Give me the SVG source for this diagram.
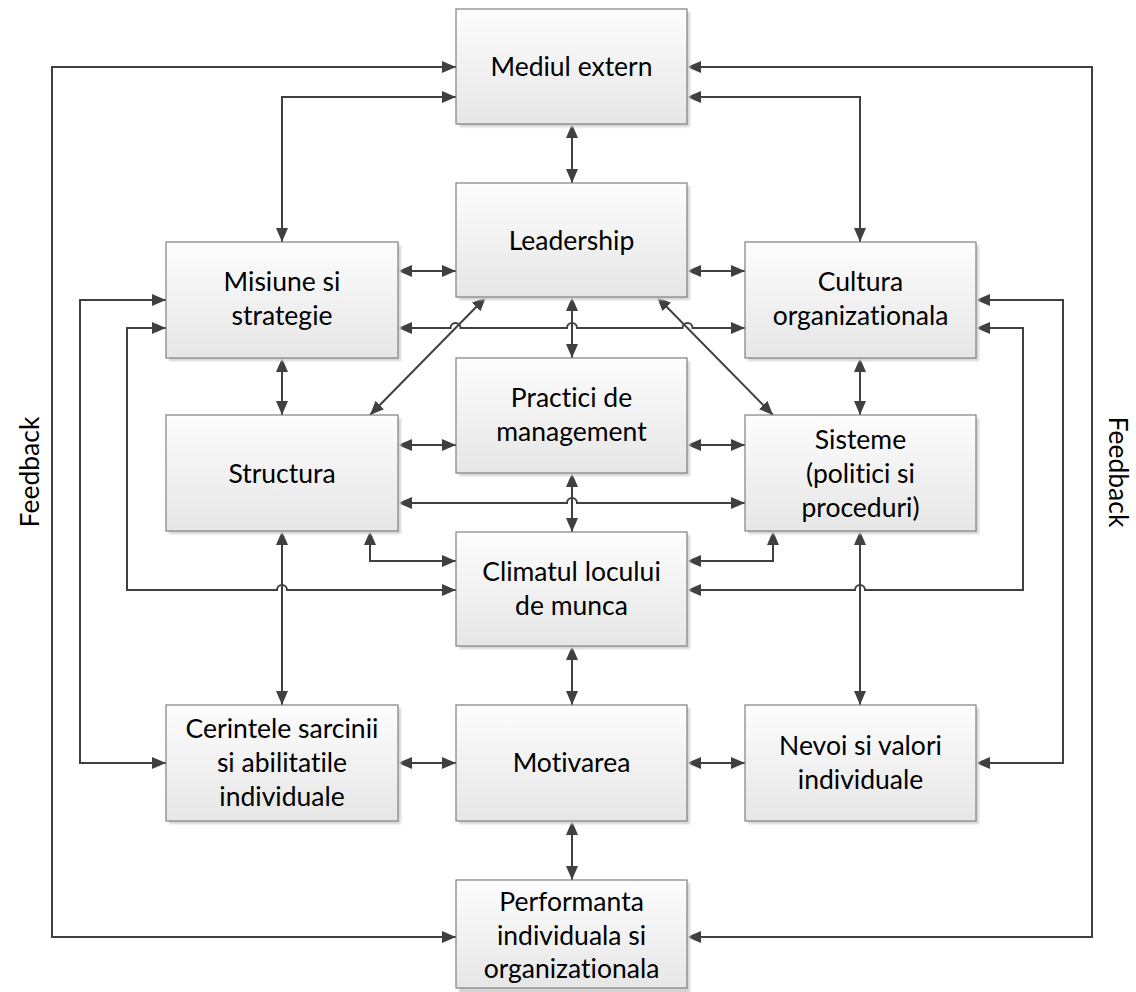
<svg xmlns="http://www.w3.org/2000/svg" width="1136" height="992" viewBox="0 0 1136 992">
  <defs>
    <linearGradient id="boxFill" x1="0" y1="0" x2="0" y2="1">
      <stop offset="0" stop-color="#fdfdfd"/>
      <stop offset="1" stop-color="#e6e6e6"/>
    </linearGradient>
    <filter id="soft" x="-10%" y="-10%" width="120%" height="120%">
      <feGaussianBlur stdDeviation="1.2"/>
    </filter>
    <marker id="arrow" viewBox="0 0 14 12" refX="14" refY="6" markerWidth="14" markerHeight="12" markerUnits="userSpaceOnUse" orient="auto-start-reverse">
      <path d="M0,0 L14,6 L0,12 z" fill="#404040"/>
    </marker>
  </defs>
  <style>
    .shadow { fill: #d4d4d4; filter: url(#soft); }
    .box { fill: url(#boxFill); stroke: #808080; stroke-width: 1.2; }
    .lbl { font-family: Lato, "Open Sans", sans-serif; font-size: 26.5px; fill: #000; text-anchor: middle; font-variant-ligatures: none; }
    .link { fill: none; stroke: #404040; stroke-width: 2; marker-start: url(#arrow); marker-end: url(#arrow); }
  </style>

  <rect width="1136" height="992" fill="#ffffff"/>

  <!-- connectors -->
  <g id="connectors">
    <path class="link" d="M572,124 V183"/>
    <path class="link" d="M572,297 V358"/>
    <path class="link" d="M398,328 H450.5 A5,5 0 0 1 460.5,328 H567 A5,5 0 0 1 577,328 H682.5 A5,5 0 0 1 692.5,328 H745"/>
    <path class="link" d="M398,271 H456"/>
    <path class="link" d="M687,271 H745"/>
    <path class="link" d="M456,97 H282 V242"/>
    <path class="link" d="M687,97 H860 V242"/>
    <path class="link" d="M456,67 H52 V937 H456"/>
    <path class="link" d="M687,67 H1092 V937 H687"/>
    <path class="link" d="M166,300 H80 V763 H166"/>
    <path class="link" d="M166,328 H127 V590 H277 A5,5 0 0 1 287,590 H456"/>
    <path class="link" d="M976,300 H1063 V763 H976"/>
    <path class="link" d="M976,328 H1023 V590 H865 A5,5 0 0 0 855,590 H687"/>
    <path class="link" d="M282,358 V415"/>
    <path class="link" d="M860,358 V415"/>
    <path class="link" d="M486,297 L370,415"/>
    <path class="link" d="M657,297 L773,415"/>
    <path class="link" d="M398,445 H456"/>
    <path class="link" d="M687,445 H745"/>
    <path class="link" d="M398,503 H567 A5,5 0 0 1 577,503 H745"/>
    <path class="link" d="M572,473 V532"/>
    <path class="link" d="M370,531 V561 H456"/>
    <path class="link" d="M773,531 V561 H687"/>
    <path class="link" d="M282,531 V705"/>
    <path class="link" d="M860,531 V705"/>
    <path class="link" d="M572,646 V705"/>
    <path class="link" d="M398,763 H456"/>
    <path class="link" d="M687,763 H745"/>
    <path class="link" d="M572,821 V880"/>
  </g>

  <!-- side labels -->
  <text class="lbl" transform="translate(39,472) rotate(-90)">Feedback</text>
  <text class="lbl" transform="translate(1109,472) rotate(90)">Feedback</text>

  <!-- nodes -->
  <g id="mediul">
    <rect class="shadow" x="459" y="12" width="231" height="115"/>
    <rect class="box" x="456" y="9" width="231" height="115"/>
    <text class="lbl" x="571.5" y="76">Mediul extern</text>
  </g>
  <g id="leadership">
    <rect class="shadow" x="459" y="186" width="231" height="114"/>
    <rect class="box" x="456" y="183" width="231" height="114"/>
    <text class="lbl" x="571.5" y="250">Leadership</text>
  </g>
  <g id="misiune">
    <rect class="shadow" x="169" y="245" width="232" height="116"/>
    <rect class="box" x="166" y="242" width="232" height="116"/>
    <text class="lbl" x="282" y="291">Misiune si</text>
    <text class="lbl" x="282" y="325">strategie</text>
  </g>
  <g id="cultura">
    <rect class="shadow" x="748" y="245" width="231" height="116"/>
    <rect class="box" x="745" y="242" width="231" height="116"/>
    <text class="lbl" x="860.5" y="291">Cultura</text>
    <text class="lbl" x="860.5" y="325">organizationala</text>
  </g>
  <g id="practici">
    <rect class="shadow" x="459" y="361" width="231" height="115"/>
    <rect class="box" x="456" y="358" width="231" height="115"/>
    <text class="lbl" x="571.5" y="407">Practici de</text>
    <text class="lbl" x="571.5" y="441">management</text>
  </g>
  <g id="structura">
    <rect class="shadow" x="169" y="418" width="232" height="116"/>
    <rect class="box" x="166" y="415" width="232" height="116"/>
    <text class="lbl" x="282" y="483">Structura</text>
  </g>
  <g id="sisteme">
    <rect class="shadow" x="748" y="418" width="231" height="116"/>
    <rect class="box" x="745" y="415" width="231" height="116"/>
    <text class="lbl" x="860.5" y="449">Sisteme</text>
    <text class="lbl" x="860.5" y="483">(politici si</text>
    <text class="lbl" x="860.5" y="517">proceduri)</text>
  </g>
  <g id="climatul">
    <rect class="shadow" x="459" y="535" width="231" height="114"/>
    <rect class="box" x="456" y="532" width="231" height="114"/>
    <text class="lbl" x="571.5" y="581">Climatul locului</text>
    <text class="lbl" x="571.5" y="615">de munca</text>
  </g>
  <g id="cerintele">
    <rect class="shadow" x="169" y="708" width="232" height="116"/>
    <rect class="box" x="166" y="705" width="232" height="116"/>
    <text class="lbl" x="282" y="738">Cerintele sarcinii</text>
    <text class="lbl" x="282" y="772">si abilitatile</text>
    <text class="lbl" x="282" y="806">individuale</text>
  </g>
  <g id="motivarea">
    <rect class="shadow" x="459" y="708" width="231" height="116"/>
    <rect class="box" x="456" y="705" width="231" height="116"/>
    <text class="lbl" x="571.5" y="772">Motivarea</text>
  </g>
  <g id="nevoi">
    <rect class="shadow" x="748" y="708" width="231" height="116"/>
    <rect class="box" x="745" y="705" width="231" height="116"/>
    <text class="lbl" x="860.5" y="755">Nevoi si valori</text>
    <text class="lbl" x="860.5" y="789">individuale</text>
  </g>
  <g id="performanta">
    <rect class="shadow" x="459" y="883" width="231" height="112"/>
    <rect class="box" x="456" y="880" width="231" height="108"/>
    <text class="lbl" x="571.5" y="911">Performanta</text>
    <text class="lbl" x="571.5" y="945">individuala si</text>
    <text class="lbl" x="571.5" y="978">organizationala</text>
  </g>
</svg>
